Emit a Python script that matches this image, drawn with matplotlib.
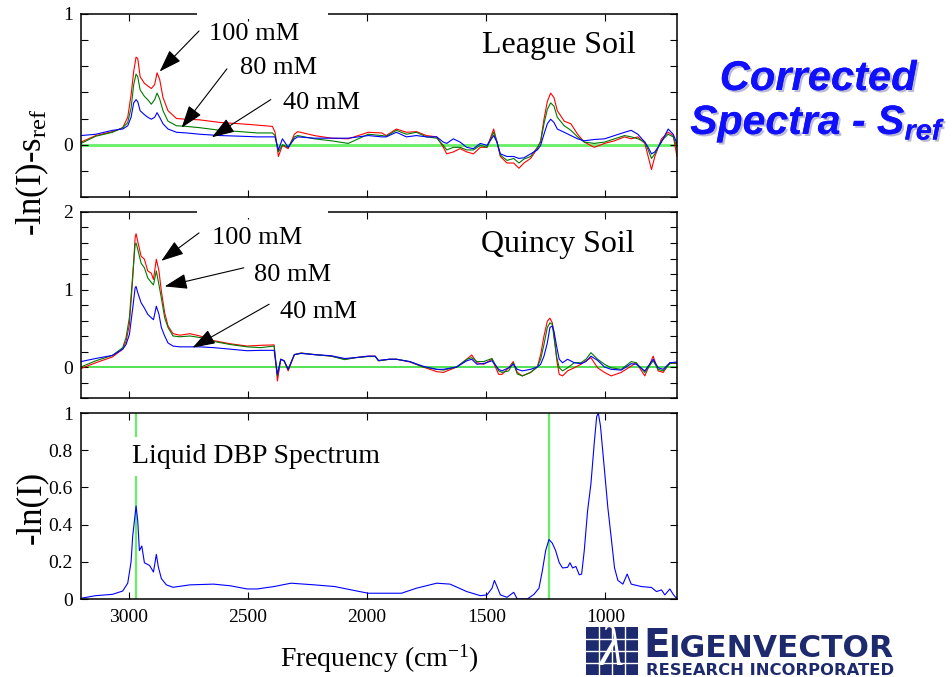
import matplotlib
matplotlib.use("Agg")
import matplotlib.pyplot as plt
from matplotlib.patches import Rectangle
from matplotlib.ticker import MultipleLocator, FixedLocator, FixedFormatter
import matplotlib.patheffects as pe

plt.rcParams['font.family'] = ['Liberation Serif', 'DejaVu Serif']
plt.rcParams['mathtext.fontset'] = 'custom'
plt.rcParams['mathtext.rm'] = 'Liberation Serif'
plt.rcParams['mathtext.it'] = 'Liberation Serif:italic'
plt.rcParams['mathtext.bf'] = 'Liberation Sans:bold:italic'

# ---------------- League soil, corrected spectra ----------------
freq_league = [3200, 3138, 3068, 3025, 3004, 2990, 2979, 2969, 2962, 2952,
               2934, 2920, 2905, 2891, 2881, 2870, 2856, 2835, 2799, 2757,
               2701, 2616, 2531, 2461, 2397, 2386, 2372, 2355, 2331, 2305,
               2291, 2221, 2150, 2079, 2037, 1995, 1938, 1920, 1877, 1835,
               1793, 1751, 1708, 1680, 1666, 1638, 1610, 1582, 1554, 1525,
               1497, 1469, 1455, 1441, 1413, 1385, 1363, 1342, 1314, 1286,
               1272, 1258, 1244, 1230, 1216, 1202, 1173, 1145, 1117, 1089,
               1047, 1004, 962, 920, 892, 864, 835, 821, 807, 793,
               765, 737, 716, 700]
league_100 = [0.02, 0.07, 0.10, 0.13, 0.21, 0.38, 0.56, 0.67, 0.66, 0.52,
              0.47, 0.45, 0.43, 0.46, 0.55, 0.50, 0.36, 0.26, 0.20, 0.195,
              0.19, 0.17, 0.16, 0.15, 0.14, 0.095, -0.09, -0.005, -0.03, 0.08,
              0.10, 0.07, 0.05, 0.045, 0.07, 0.095, 0.09, 0.07, 0.12, 0.095,
              0.10, 0.07, 0.06, -0.02, -0.07, -0.055, -0.03, -0.055, -0.07, -0.02,
              -0.02, 0.12, 0.02, -0.09, -0.14, -0.14, -0.18, -0.14, -0.105, -0.03,
              0.03, 0.195, 0.33, 0.395, 0.36, 0.26, 0.18, 0.16, 0.08, 0.02,
              -0.02, 0.01, 0.03, 0.06, 0.045, 0.06, 0.01, -0.09, -0.19, -0.09,
              0.045, 0.095, 0.07, -0.09]
league_80 = [0.01, 0.065, 0.095, 0.13, 0.17, 0.28, 0.46, 0.54, 0.52, 0.42,
             0.37, 0.345, 0.31, 0.345, 0.395, 0.35, 0.26, 0.18, 0.145, 0.14,
             0.13, 0.11, 0.10, 0.09, 0.09, 0.07, -0.055, 0.0, -0.02, 0.06,
             0.07, 0.045, 0.03, 0.01, 0.045, 0.08, 0.07, 0.065, 0.11, 0.08,
             0.095, 0.06, 0.05, -0.005, -0.04, -0.02, -0.02, -0.04, -0.04, -0.005,
             -0.02, 0.095, 0.02, -0.08, -0.12, -0.105, -0.14, -0.11, -0.09, -0.02,
             0.02, 0.16, 0.27, 0.32, 0.295, 0.21, 0.145, 0.11, 0.06, 0.02,
             0.01, 0.02, 0.045, 0.07, 0.06, 0.045, 0.02, -0.04, -0.105, -0.07,
             0.03, 0.08, 0.06, -0.02]
league_40 = [0.07, 0.08, 0.11, 0.12, 0.145, 0.21, 0.32, 0.345, 0.33, 0.26,
             0.23, 0.21, 0.195, 0.21, 0.245, 0.21, 0.16, 0.12, 0.095, 0.09,
             0.08, 0.07, 0.065, 0.06, 0.06, 0.06, -0.04, 0.045, -0.02, 0.045,
             0.06, 0.05, 0.05, 0.05, 0.06, 0.07, 0.06, 0.06, 0.095, 0.06,
             0.07, 0.06, 0.06, 0.02, 0.01, 0.045, 0.02, -0.02, -0.03, 0.01,
             -0.005, 0.07, 0.02, -0.07, -0.09, -0.09, -0.105, -0.10, -0.07, -0.04,
             -0.005, 0.08, 0.16, 0.195, 0.17, 0.12, 0.095, 0.07, 0.045, 0.03,
             0.04, 0.045, 0.07, 0.095, 0.11, 0.08, 0.02, -0.02, -0.07, -0.055,
             0.02, 0.12, 0.08, 0.01]

# ---------------- Quincy soil, corrected spectra ----------------
freq_quincy = [3200, 3138, 3068, 3025, 3011, 2997, 2983, 2973, 2969, 2962,
               2948, 2934, 2920, 2905, 2896, 2884, 2873, 2863, 2849, 2835,
               2814, 2785, 2743, 2701, 2644, 2574, 2503, 2447, 2390, 2376,
               2362, 2348, 2331, 2305, 2277, 2221, 2150, 2094, 2051, 1995,
               1966, 1952, 1906, 1877, 1821, 1765, 1708, 1680, 1624, 1582,
               1561, 1539, 1511, 1476, 1448, 1434, 1406, 1387, 1370, 1349,
               1314, 1286, 1272, 1258, 1244, 1233, 1223, 1216, 1204, 1194,
               1180, 1159, 1131, 1103, 1082, 1061, 1033, 1004, 976, 934,
               892, 871, 835, 800, 779, 758, 730, 700]
quincy_100 = [-0.02, 0.055, 0.13, 0.23, 0.33, 0.55, 1.15, 1.67, 1.72, 1.62,
              1.43, 1.39, 1.24, 1.21, 1.13, 1.39, 1.24, 0.98, 0.70, 0.53,
              0.43, 0.41, 0.43, 0.40, 0.34, 0.30, 0.27, 0.28, 0.285, -0.18,
              0.10, 0.08, -0.05, 0.16, 0.18, 0.16, 0.14, 0.10, 0.12, 0.14,
              0.14, 0.08, 0.10, 0.10, 0.065, 0.0, -0.06, -0.07, 0.0, 0.10,
              0.155, 0.055, 0.035, 0.10, -0.095, -0.095, -0.01, 0.07, -0.07, -0.115,
              -0.07, 0.0, 0.16, 0.40, 0.59, 0.63, 0.57, 0.42, 0.08, -0.095,
              -0.115, -0.05, -0.01, 0.035, 0.08, 0.12, -0.01, -0.07, -0.115, -0.07,
              0.013, 0.055, -0.115, 0.14, -0.05, -0.07, 0.055, 0.043]
quincy_80 = [0.0, 0.08, 0.15, 0.25, 0.38, 0.64, 1.19, 1.58, 1.60, 1.52,
             1.34, 1.28, 1.15, 1.09, 1.06, 1.24, 1.06, 0.89, 0.635, 0.51,
             0.40, 0.39, 0.40, 0.38, 0.33, 0.29, 0.26, 0.25, 0.27, -0.115,
             0.10, 0.08, -0.03, 0.16, 0.18, 0.16, 0.14, 0.095, 0.12, 0.135,
             0.135, 0.08, 0.10, 0.10, 0.07, 0.0, -0.03, -0.04, 0.0, 0.10,
             0.12, 0.07, 0.07, 0.11, -0.05, -0.07, -0.05, 0.055, -0.09, -0.115,
             -0.07, 0.0, 0.10, 0.29, 0.51, 0.57, 0.55, 0.38, 0.12, -0.01,
             -0.05, -0.01, 0.055, 0.055, 0.10, 0.185, 0.10, 0.035, -0.01, -0.03,
             0.07, 0.055, -0.07, 0.08, -0.03, -0.05, 0.043, 0.055]
quincy_40 = [0.07, 0.11, 0.15, 0.23, 0.29, 0.42, 0.76, 1.02, 1.04, 0.96,
             0.83, 0.76, 0.68, 0.635, 0.61, 0.785, 0.68, 0.51, 0.40, 0.31,
             0.27, 0.26, 0.26, 0.26, 0.25, 0.23, 0.21, 0.215, 0.215, -0.095,
             0.10, 0.08, -0.03, 0.16, 0.175, 0.16, 0.145, 0.11, 0.12, 0.14,
             0.14, 0.085, 0.10, 0.10, 0.07, 0.01, -0.03, -0.03, 0.0, 0.08,
             0.10, 0.035, 0.045, 0.08, -0.03, -0.05, -0.01, 0.035, -0.03, -0.05,
             -0.03, 0.0, 0.035, 0.14, 0.31, 0.51, 0.53, 0.46, 0.25, 0.10,
             0.055, 0.10, 0.055, 0.043, 0.07, 0.14, 0.085, 0.0, -0.03, -0.04,
             0.043, 0.035, -0.05, 0.10, -0.01, -0.03, 0.055, 0.064]

# ---------------- Liquid DBP reference spectrum ----------------
freq_dbp = [3200, 3138, 3068, 3025, 3004, 2990, 2983, 2976, 2969, 2962,
            2955, 2945, 2934, 2912, 2896, 2884, 2876, 2863, 2842, 2814,
            2743, 2644, 2574, 2503, 2461, 2390, 2319, 2221, 2136, 2051,
            1995, 1938, 1856, 1793, 1708, 1652, 1582, 1525, 1497, 1476,
            1466, 1455, 1441, 1413, 1385, 1370, 1328, 1300, 1279, 1265,
            1251, 1237, 1223, 1209, 1194, 1180, 1159, 1149, 1138, 1124,
            1110, 1100, 1089, 1075, 1061, 1047, 1037, 1030, 1021, 1004,
            990, 976, 962, 948, 927, 909, 892, 850, 807, 786,
            765, 751, 730, 716, 700]
dbp = [0.004, 0.018, 0.025, 0.043, 0.085, 0.20, 0.34, 0.42, 0.50, 0.42,
       0.26, 0.285, 0.195, 0.18, 0.145, 0.24, 0.175, 0.11, 0.076, 0.063,
       0.076, 0.08, 0.071, 0.054, 0.054, 0.067, 0.085, 0.076, 0.067, 0.045,
       0.031, 0.031, 0.031, 0.058, 0.085, 0.08, 0.04, 0.018, 0.022, 0.058,
       0.10, 0.067, 0.022, 0.009, 0.036, 0.0, 0.0, 0.025, 0.058, 0.15,
       0.26, 0.32, 0.30, 0.26, 0.195, 0.167, 0.17, 0.195, 0.167, 0.175,
       0.13, 0.134, 0.26, 0.475, 0.62, 0.84, 0.98, 1.0, 0.93, 0.69,
       0.49, 0.33, 0.167, 0.10, 0.08, 0.134, 0.08, 0.067, 0.062, 0.04,
       0.049, 0.022, 0.054, 0.025, 0.0]
dbp_marker_freqs = [2969, 1237]

x_ticks = [3000, 2500, 2000, 1500, 1000]
conc_labels = ['100 mM', '80 mM', '40 mM']

W, H = 953, 677
fig = plt.figure(figsize=(W / 100, H / 100), dpi=100)


def px_rect(x0, y0, x1, y1):
    return [x0 / W, 1 - y1 / H, (x1 - x0) / W, (y1 - y0) / H]


def fx(x):
    return x / W


def fy(y):
    return 1 - y / H


ax1 = fig.add_axes(px_rect(81, 14, 677, 197))
ax2 = fig.add_axes(px_rect(81, 212, 677, 398))
ax3 = fig.add_axes(px_rect(81, 413, 677, 599))

for ax in (ax1, ax2, ax3):
    ax.set_xlim(3200, 700)
    ax.xaxis.set_major_locator(FixedLocator(x_ticks))
    ax.tick_params(which='both', direction='in', top=True, right=True,
                   labelsize=14, pad=6)
    ax.tick_params(which='major', length=5, width=0.8)
    ax.tick_params(which='minor', length=5, width=0.8)
    for s in ax.spines.values():
        s.set_linewidth(1.1)

curve_colors = ['#ff0000', '#007a00', '#0000ff']

# League soil panel
for y, c in zip([league_100, league_80, league_40], curve_colors):
    ax1.plot(freq_league, y, color=c, lw=0.8)
ax1.axhline(0, color='#66ee66', lw=2.0, zorder=1)
ax1.set_ylim(-0.4, 1.0)
ax1.yaxis.set_major_locator(FixedLocator([0, 1]))
ax1.yaxis.set_major_formatter(FixedFormatter(['0', '1']))
ax1.yaxis.set_minor_locator(MultipleLocator(0.2))
ax1.tick_params(axis='x', labelbottom=False)
ax1.text(1518, 0.76, 'League Soil', fontsize=23, va='center', ha='left')

# Quincy soil panel
for y, c in zip([quincy_100, quincy_80, quincy_40], curve_colors):
    ax2.plot(freq_quincy, y, color=c, lw=0.8)
ax2.axhline(0, color='#33dd33', lw=1.2, zorder=1)
ax2.set_ylim(-0.4, 2.0)
ax2.yaxis.set_major_locator(FixedLocator([0, 1, 2]))
ax2.yaxis.set_major_formatter(FixedFormatter(['0', '1', '2']))
ax2.yaxis.set_minor_locator(MultipleLocator(0.2))
ax2.tick_params(axis='x', labelbottom=False)
ax2.text(1522, 1.58, 'Quincy Soil', fontsize=23, va='center', ha='left')

# concentration call-outs: (text position, arrow tail, arrow tip)
league_notes = [((2665, 0.845), (2705, 0.87), (2870, 0.56)),
                ((2531, 0.59), (2588, 0.58), (2778, 0.13)),
                ((2352, 0.32), (2404, 0.345), (2651, 0.057))]
quincy_notes = [((2651, 1.66), (2705, 1.73), (2863, 1.37)),
                ((2475, 1.19), (2517, 1.28), (2849, 1.04)),
                ((2365, 0.71), (2411, 0.81), (2732, 0.25))]

arrow_style = dict(arrowstyle='-|>,head_length=0.7,head_width=0.24',
                   mutation_scale=20, lw=0.8, color='black',
                   shrinkA=0, shrinkB=0)
for ax, notes in ((ax1, league_notes), (ax2, quincy_notes)):
    for label, (tpos, tail, tip) in zip(conc_labels, notes):
        ax.text(tpos[0], tpos[1], label, fontsize=19, va='center', ha='left')
        ax.annotate('', xy=tip, xytext=tail, arrowprops=arrow_style)
    # white gap in the top frame behind the call-out text
    ax.add_patch(Rectangle((0.195, 0.97), 0.219, 0.06, transform=ax.transAxes,
                           facecolor='white', edgecolor='none',
                           clip_on=False, zorder=5))

# DBP panel
for f in dbp_marker_freqs:
    ax3.axvline(f, color='#66ee66', lw=1.6, zorder=1)
ax3.plot(freq_dbp, dbp, color='#0000ff', lw=0.8, zorder=2)
ax3.set_ylim(0, 1.0)
ax3.yaxis.set_major_locator(FixedLocator([0, 0.2, 0.4, 0.6, 0.8, 1.0]))
ax3.yaxis.set_major_formatter(FixedFormatter(['0', '0.2', '0.4', '0.6', '0.8', '1']))
ax3.tick_params(axis='x', pad=7)
ax3.text(2986, 0.765, 'Liquid DBP Spectrum', fontsize=20, va='center', ha='left',
         zorder=3, bbox=dict(facecolor='white', edgecolor='none', pad=5))
ax3.set_xlabel(r'Frequency (cm$^{-1}$)', fontsize=20, labelpad=12)

# axis titles
fig.text(fx(32), fy(172), r'-ln(I)-s$_{\rm ref}$', rotation=90, fontsize=25,
         ha='center', va='center')
fig.text(fx(32), fy(507), '-ln(I)', rotation=90, fontsize=25,
         ha='center', va='center')

# slide heading
shadow = [pe.withSimplePatchShadow(offset=(1.5, -1.5), shadow_rgbFace='#7777aa',
                                   alpha=0.5), pe.Normal()]
fig.text(fx(818), fy(90), 'Corrected', fontsize=30, color='#1010ff',
         family='Liberation Sans', weight='bold', style='italic',
         ha='center', va='baseline', path_effects=shadow)
fig.text(fx(818), fy(134), r'Spectra - S$_{\mathbf{ref}}$', fontsize=29.5,
         color='#1010ff', family='Liberation Sans', weight='bold',
         style='italic', ha='center', va='baseline', path_effects=shadow)

# company logo
navy = '#1e2a6e'
fig.add_artist(Rectangle((fx(583), fy(677)), (900 - 583) / W, 51 / H,
                         transform=fig.transFigure, facecolor='white',
                         edgecolor='none', zorder=10))
gx0, gy0, gx1, gy1 = 586, 627, 638, 675
fig.add_artist(Rectangle((fx(gx0), fy(gy1)), (gx1 - gx0) / W, (gy1 - gy0) / H,
                         transform=fig.transFigure, facecolor=navy,
                         edgecolor='none', zorder=11))
for i in range(1, 4):
    xg = gx0 + i * (gx1 - gx0) / 4
    yg = gy0 + i * (gy1 - gy0) / 4
    fig.add_artist(plt.Line2D([fx(xg), fx(xg)], [fy(gy0), fy(gy1)],
                              transform=fig.transFigure, color='white',
                              lw=1.0, zorder=12))
    fig.add_artist(plt.Line2D([fx(gx0), fx(gx1)], [fy(yg), fy(yg)],
                              transform=fig.transFigure, color='white',
                              lw=1.0, zorder=12))
fig.text(fx(611), fy(651), 'λ', fontsize=40, color='white', style='italic',
         ha='center', va='center', zorder=13)
fig.text(fx(643), fy(657), 'E', fontsize=28, color=navy, family='DejaVu Sans',
         weight='bold', ha='left', va='baseline', zorder=13)
fig.text(fx(668), fy(657), 'IGENVECTOR', fontsize=22.5, color=navy,
         family='DejaVu Sans', weight='bold', ha='left', va='baseline', zorder=13)
fig.text(fx(646), fy(675), 'RESEARCH INCORPORATED', fontsize=11.8, color=navy,
         family='DejaVu Sans', weight='bold', ha='left', va='baseline', zorder=13)

fig.savefig('out.png', dpi=100)
